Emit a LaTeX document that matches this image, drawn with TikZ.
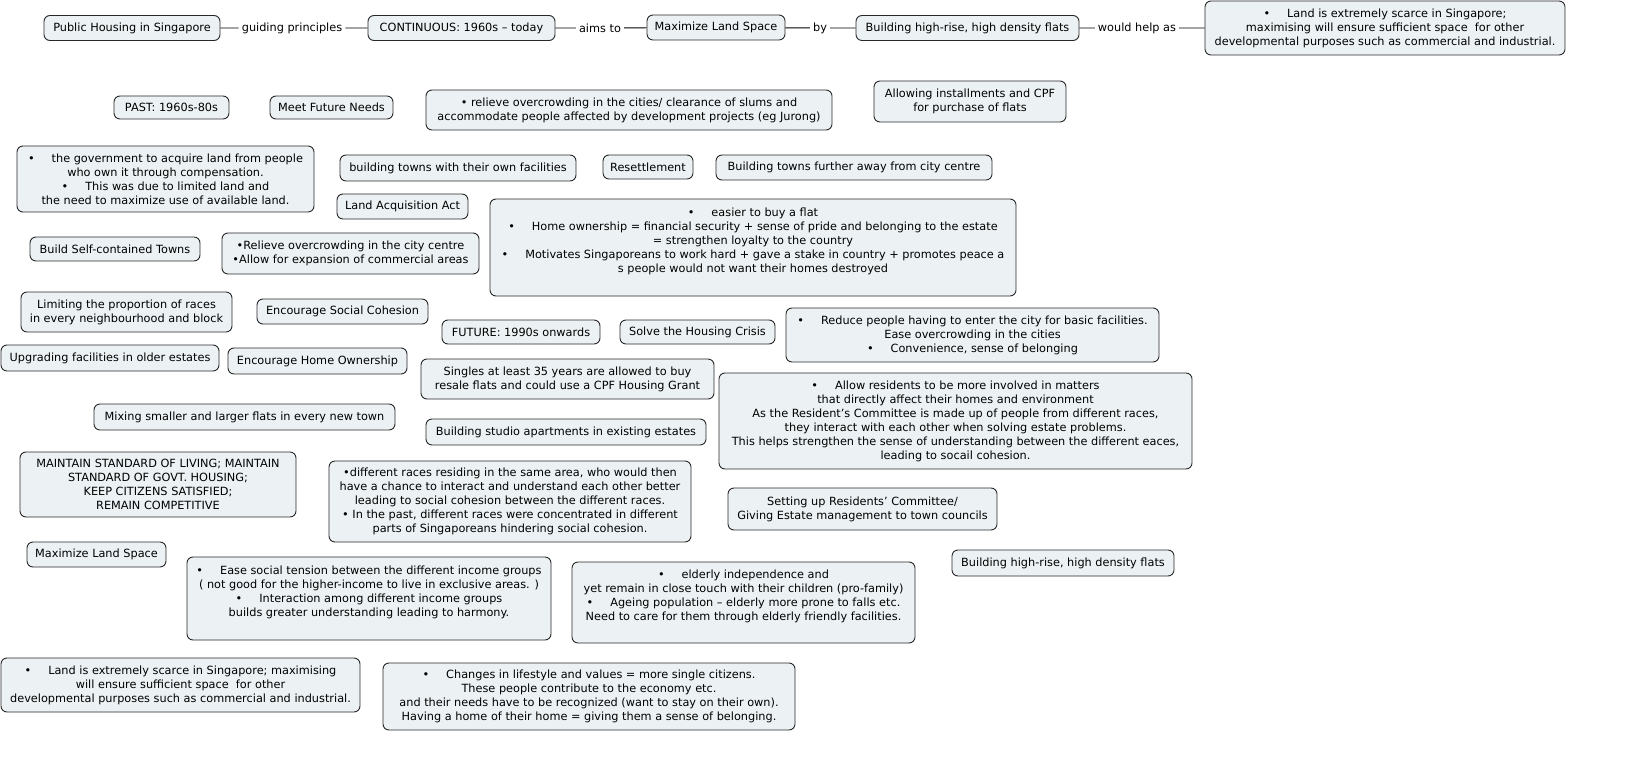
\documentclass[tikz,border=0pt]{standalone}
\usepackage{fontspec}
\setmainfont{DejaVu Sans}
\definecolor{boxfill}{RGB}{236,242,244}
\definecolor{boxdraw}{RGB}{40,40,40}
\tikzset{
  cbox/.style={draw=boxdraw, fill=boxfill, line width=0.9pt, rounded corners=6pt,
    align=center, inner sep=2pt, font=\fontsize{11.3}{14}\selectfont},
  lbl/.style={inner sep=3pt, font=\fontsize{11.3}{14}\selectfont},
  conn/.style={draw=black, line width=0.9pt}
}
\newcommand{\bl}{•\hspace{1.5em}}
\begin{document}
\begin{tikzpicture}[x=1pt,y=-1pt]
\useasboundingbox (0,0) rectangle (1640,767);
% top row
\node[cbox, minimum width=176pt, minimum height=25pt] (n1) at (132,28) {Public Housing in Singapore};
\node[lbl] (l1) at (292,28) {guiding principles};
\node[cbox, minimum width=187pt, minimum height=25pt] (n2) at (461.5,28) {CONTINUOUS: 1960s – today};
\node[lbl] (l2) at (600,28) {aims to};
\node[cbox, minimum width=138pt, minimum height=25pt] (n3) at (716,27.5) {Maximize Land Space};
\node[lbl] (l3) at (820,28) {by};
\node[cbox, minimum width=223pt, minimum height=25pt] (n4) at (967.5,28) {Building high-rise, high density flats};
\node[lbl] (l4) at (1137,28) {would help as};
\node[cbox, minimum width=360pt, minimum height=54pt] (n5) at (1385,28) {\bl Land is extremely scarce in Singapore;\\maximising will ensure sufficient space\ \ for other\\developmental purposes such as commercial and industrial.};
\draw[conn] (n1) -- (l1) -- (n2) -- (l2) -- (n3) -- (l3) -- (n4) -- (l4) -- (n5);
% other nodes
\node[cbox, minimum width=115pt, minimum height=23pt] (past) at (171.5,107.5) {PAST: 1960s-80s};
\node[cbox, minimum width=123pt, minimum height=23pt] (mfn) at (331.5,107.5) {Meet Future Needs};
\node[cbox, minimum width=406pt, minimum height=40pt] (rel) at (629,110) {• relieve overcrowding in the cities/ clearance of slums and\\accommodate people affected by development projects (eg Jurong)};
\node[cbox, minimum width=192pt, minimum height=41pt] (inst) at (970,101.5) {Allowing installments and CPF\\for purchase of flats};
\node[cbox, minimum width=297pt, minimum height=66pt] (gov) at (165.5,179) {\bl the government to acquire land from people\\who own it through compensation.\\\bl This was due to limited land and\\the need to maximize use of available land.};
\node[cbox, minimum width=236pt, minimum height=26pt] (btf) at (458,168) {building towns with their own facilities};
\node[cbox, minimum width=90pt, minimum height=24pt] (reset) at (648,167) {Resettlement};
\node[cbox, minimum width=276pt, minimum height=25pt] (bfa) at (854,167.5) {Building towns further away from city centre};
\node[cbox, minimum width=131pt, minimum height=25pt] (laa) at (402.5,206.5) {Land Acquisition Act};
\node[cbox, minimum width=526pt, minimum height=97pt] (easier) at (753,247.5) {\bl easier to buy a flat\\\bl Home ownership = financial security + sense of pride and belonging to the estate\\= strengthen loyalty to the country\\\bl Motivates Singaporeans to work hard + gave a stake in country + promotes peace a\\s people would not want their homes destroyed\\\mbox{}};
\node[cbox, minimum width=170pt, minimum height=24pt] (bsct) at (115,249) {Build Self-contained Towns};
\node[cbox, minimum width=257pt, minimum height=41pt] (relv) at (350.5,253.5) {•Relieve overcrowding in the city centre\\•Allow for expansion of commercial areas};
\node[cbox, minimum width=211pt, minimum height=40pt] (lim) at (126.5,312) {Limiting the proportion of races\\in every neighbourhood and block};
\node[cbox, minimum width=171pt, minimum height=25pt] (esc) at (342.5,311.5) {Encourage Social Cohesion};
\node[cbox, minimum width=158pt, minimum height=24pt] (fut) at (521,332) {FUTURE: 1990s onwards};
\node[cbox, minimum width=155pt, minimum height=24pt] (shc) at (697.5,332) {Solve the Housing Crisis};
\node[cbox, minimum width=373pt, minimum height=54pt] (red) at (972.5,335) {\bl Reduce people having to enter the city for basic facilities.\\Ease overcrowding in the cities\\\bl Convenience, sense of belonging};
\node[cbox, minimum width=218pt, minimum height=26pt] (upg) at (110,358) {Upgrading facilities in older estates};
\node[cbox, minimum width=179pt, minimum height=26pt] (eho) at (317.5,361) {Encourage Home Ownership};
\node[cbox, minimum width=293pt, minimum height=40pt] (sing) at (567.5,379) {Singles at least 35 years are allowed to buy\\resale flats and could use a CPF Housing Grant};
\node[cbox, minimum width=473pt, minimum height=96pt] (allow) at (955.5,421) {\bl Allow residents to be more involved in matters\\that directly affect their homes and environment\\As the Resident's Committee is made up of people from different races,\\they interact with each other when solving estate problems.\\This helps strengthen the sense of understanding between the different eaces,\\leading to socail cohesion.};
\node[cbox, minimum width=301pt, minimum height=26pt] (mix) at (244.5,417) {Mixing smaller and larger flats in every new town};
\node[cbox, minimum width=280pt, minimum height=26pt] (studio) at (566,432) {Building studio apartments in existing estates};
\node[cbox, minimum width=276pt, minimum height=65pt] (maint) at (158,484.5) {MAINTAIN STANDARD OF LIVING; MAINTAIN\\STANDARD OF GOVT. HOUSING;\\KEEP CITIZENS SATISFIED;\\REMAIN COMPETITIVE};
\node[cbox, minimum width=362pt, minimum height=81pt] (races) at (510,501.5) {•different races residing in the same area, who would then\\have a chance to interact and understand each other better\\leading to social cohesion between the different races.\\• In the past, different races were concentrated in different\\parts of Singaporeans hindering social cohesion.};
\node[cbox, minimum width=269pt, minimum height=42pt] (rc) at (862.5,509) {Setting up Residents’ Committee/\\Giving Estate management to town councils};
\node[cbox, minimum width=139pt, minimum height=25pt] (mls2) at (96.5,554.5) {Maximize Land Space};
\node[cbox, minimum width=364pt, minimum height=83pt] (ease) at (369,598.5) {\bl Ease social tension between the different income groups\\( not good for the higher-income to live in exclusive areas. )\\\bl Interaction among different income groups\\builds greater understanding leading to harmony.\\\mbox{}};
\node[cbox, minimum width=343pt, minimum height=81pt] (eld) at (743.5,602.5) {\bl elderly independence and\\yet remain in close touch with their children (pro-family)\\\bl Ageing population – elderly more prone to falls etc.\\Need to care for them through elderly friendly facilities.\\\mbox{}};
\node[cbox, minimum width=222pt, minimum height=26pt] (bhr2) at (1063,563) {Building high-rise, high density flats};
\node[cbox, minimum width=359pt, minimum height=54pt] (land2) at (180.5,685) {\bl Land is extremely scarce in Singapore; maximising\\will ensure sufficient space\ \ for other\\developmental purposes such as commercial and industrial.};
\node[cbox, minimum width=412pt, minimum height=67pt] (chg) at (589,696.5) {\bl Changes in lifestyle and values = more single citizens.\\These people contribute to the economy etc.\\and their needs have to be recognized (want to stay on their own).\\Having a home of their home = giving them a sense of belonging.};
\end{tikzpicture}
\end{document}
